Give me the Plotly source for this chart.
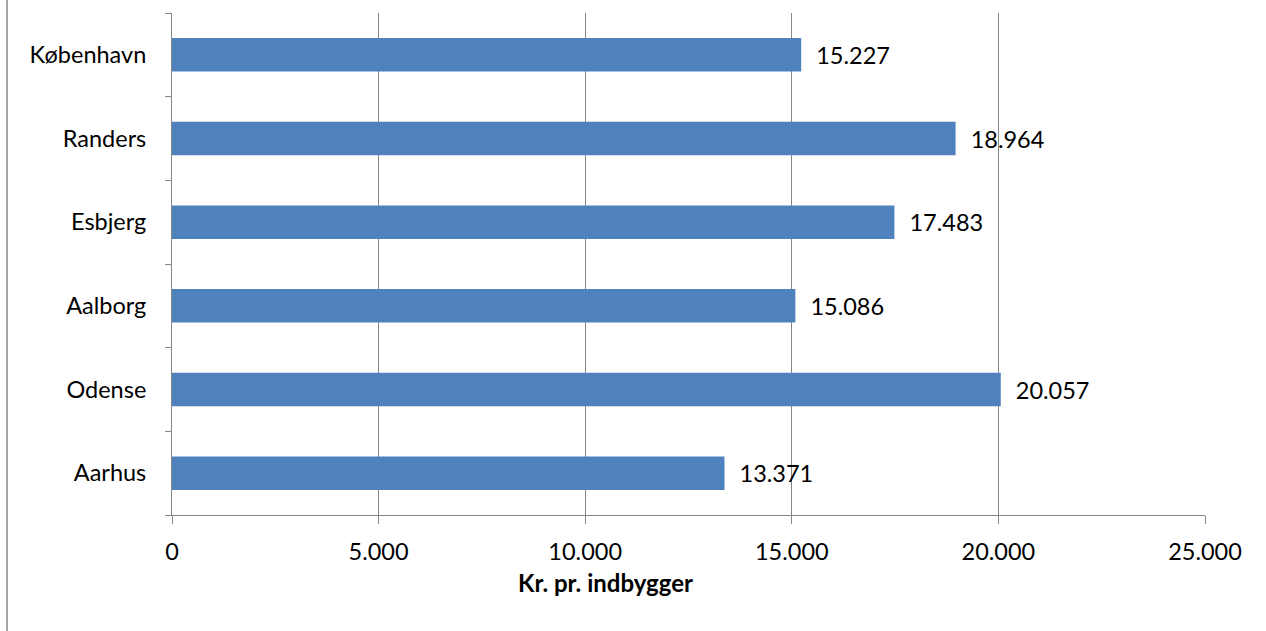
import plotly.graph_objects as go

cities = ["Aarhus", "Odense", "Aalborg", "Esbjerg", "Randers", "København"]
values = [13371, 20057, 15086, 17483, 18964, 15227]
x_ticks = [0, 5000, 10000, 15000, 20000, 25000]
x_tick_labels = ["0", "5.000", "10.000", "15.000", "20.000", "25.000"]
x_title = "Kr. pr. indbygger"

def fmt(v):
    return "\u00a0\u00a0" + f"{v:,}".replace(",", ".")

FONT = "Lato, Carlito, Calibri, sans-serif"
GRID = "#868686"

fig = go.Figure(go.Bar(
    y=cities, x=values, orientation="h",
    marker=dict(color="#4F81BD", line=dict(width=0)),
    text=[fmt(v) for v in values], textposition="outside",
    textfont=dict(family=FONT, size=23.5, color="#000000"),
    cliponaxis=False, width=0.4,
))

fig.update_layout(
    width=1266, height=631,
    margin=dict(l=172, r=61, t=13, b=116, autoexpand=False),
    paper_bgcolor="white", plot_bgcolor="white",
    showlegend=False,
    font=dict(family=FONT, size=23.5, color="#000000"),
    xaxis=dict(
        range=[0, 25000], tickvals=x_ticks, ticktext=x_tick_labels,
        showgrid=True, gridcolor=GRID, gridwidth=1,
        showline=True, linecolor=GRID, linewidth=1,
        ticks="outside", ticklen=8, tickcolor=GRID, tickwidth=1,
        zeroline=False, ticklabelstandoff=8,
    ),
    yaxis=dict(
        showgrid=False, showline=True, linecolor=GRID, linewidth=1,
        ticks="outside", ticklen=6, tickcolor=GRID, tickwidth=1,
        tickson="boundaries", ticklabelstandoff=20,
        range=[-0.5, 5.5],
    ),
    annotations=[dict(text="<b>" + x_title + "</b>", xref="paper", yref="paper",
                      x=(605 - 172) / 1033, y=-(583 - 515) / 502,
                      xanchor="center", yanchor="middle", showarrow=False,
                      font=dict(family=FONT, size=24, color="#000000"))],
    shapes=[dict(type="line", xref="paper", yref="paper",
                 x0=(7 - 172) / 1033, x1=(7 - 172) / 1033, y0=-116 / 502, y1=(631 - 116) / 502 + 0.05,
                 line=dict(color=GRID, width=1.5))],
)

fig.write_html("out.html", config={"displayModeBar": False},
               post_script="document.body.style.margin='0';document.body.style.padding='0';")
